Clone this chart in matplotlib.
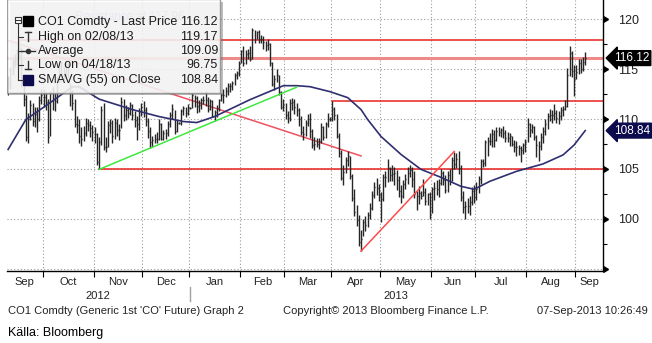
import matplotlib.pyplot as plt
import numpy as np
import pandas as pd
from matplotlib.transforms import blended_transform_factory
from matplotlib.patches import Rectangle
from matplotlib.lines import Line2D

plt.rcParams['font.family'] = ['Liberation Sans', 'DejaVu Sans']

# CO1 Comdty daily bars, 07-Sep-2012 .. 06-Sep-2013 (one row per week)
dates = pd.bdate_range('2012-09-07', '2013-09-06')

close = [
    113.6,
    114.8, 115.8, 116.0, 116.6, 116.7,
    113.8, 112.0, 108.2, 110.0, 111.4,
    109.8, 110.5, 110.0, 111.9, 112.4,
    112.2, 111.7, 108.2, 112.6, 112.0,
    111.8, 113.9, 115.3, 114.6, 114.6,
    115.3, 115.0, 112.7, 111.6, 109.5,
    109.4, 108.3, 108.0, 108.6, 109.6,
    109.4, 109.1, 108.7, 108.5, 105.7,
    107.7, 110.9, 107.2, 107.2, 109.4,
    109.6, 108.3, 109.6, 108.9, 108.9,
    111.7, 110.4, 110.9, 110.6, 111.4,
    110.4, 109.9, 109.5, 110.8, 111.2,
    110.9, 109.8, 108.8, 107.7, 107.9,
    108.0, 108.0, 109.5, 108.0, 108.6,
    108.6, 109.5, 110.4, 111.0, 108.8,
    109.6, 109.6, 110.8, 111.1, 110.6,
    111.1, 111.1, 112.4, 112.1, 111.3,
    111.4, 111.9, 111.9, 111.9, 111.0,
    111.8, 110.3, 110.7, 111.1, 111.9,
    112.4, 112.4, 112.8, 113.3, 113.3,
    113.6, 114.4, 114.6, 115.6, 116.8,
    115.6, 116.5, 116.6, 116.0, 118.9,
    118.5, 118.7, 118.0, 118.0, 117.7,
    117.4, 117.5, 115.6, 113.5, 114.0,
    114.4, 112.7, 111.2, 111.4, 110.4,
    110.1, 111.6, 111.7, 111.2, 110.9,
    110.0, 108.7, 108.5, 109.6, 110.0,
    108.8, 107.4, 107.5, 107.5, 107.8,
    109.2, 108.2, 109.5, 110.0, 110.0,
    111.0, 110.4, 108.3, 106.6, 104.1,
    104.7, 105.9, 106.3, 104.3, 102.1,
    100.7, 99.9, 97.7, 98.0, 99.7,
    99.4, 100.4, 101.1, 102.4, 103.2,
    103.1, 102.4, 102.0, 104.2, 104.2,
    105.1, 104.4, 104.5, 104.6, 103.9,
    102.8, 102.3, 103.5, 104.0, 104.6,
    104.9, 104.0, 102.5, 102.3, 102.6,
    102.3, 102.7, 101.8, 102.5, 100.4,
    103.0, 103.1, 103.0, 103.6, 104.6,
    103.9, 102.9, 104.4, 103.8, 105.9,
    105.5, 106.0, 105.1, 102.2, 101.2,
    101.3, 101.3, 101.7, 102.8, 102.2,
    103.0, 104.0, 105.8, 105.6, 107.7,
    107.8, 107.8, 108.5, 107.9, 108.8,
    108.7, 108.9, 108.6, 108.1, 108.1,
    108.3, 107.5, 107.2, 107.2, 107.1,
    106.9, 107.4, 107.7, 109.5, 108.9,
    109.2, 108.2, 107.4, 107.3, 108.2,
    108.8, 109.5, 110.3, 110.4, 110.4,
    110.6, 110.1, 110.3, 110.9, 111.0,
    111.3, 114.4, 116.6, 114.8, 114.0,
    114.7, 115.6, 115.0, 115.7, 116.12,
]

high = [
    114.3,
    115.2, 116.0, 116.5, 117.0, 117.95,
    117.2, 114.3, 112.4, 110.6, 111.9,
    111.6, 111.2, 111.2, 112.3, 113.0,
    113.0, 112.6, 112.0, 112.8, 113.2,
    112.6, 114.2, 115.6, 115.8, 115.2,
    115.9, 115.6, 113.6, 112.9, 112.0,
    110.3, 110.0, 109.2, 109.3, 110.1,
    110.0, 109.8, 109.4, 109.2, 108.6,
    108.2, 111.3, 111.6, 108.2, 109.8,
    110.0, 109.9, 110.1, 110.0, 109.5,
    112.2, 112.0, 111.4, 111.2, 111.7,
    111.5, 110.8, 110.3, 111.1, 111.6,
    111.8, 111.2, 110.1, 109.2, 108.3,
    108.5, 108.7, 110.0, 109.6, 108.9,
    109.0, 109.8, 110.7, 111.5, 110.9,
    109.9, 109.7, 111.0, 111.3, 111.2,
    111.5, 111.2, 112.6, 112.4, 112.3,
    111.9, 112.1, 112.3, 112.8, 112.2,
    112.0, 111.9, 110.9, 111.4, 112.0,
    112.6, 113.0, 113.2, 113.6, 113.6,
    113.8, 114.6, 114.8, 115.8, 116.9,
    117.3, 116.9, 117.0, 117.3, 119.17,
    118.9, 118.8, 118.9, 118.4, 118.3,
    117.8, 118.0, 117.6, 115.7, 114.4,
    115.0, 114.4, 112.8, 112.0, 111.6,
    110.8, 112.0, 112.1, 112.0, 111.6,
    111.1, 110.3, 109.3, 109.9, 110.5,
    110.6, 109.0, 108.2, 108.1, 108.1,
    109.6, 109.3, 109.7, 110.6, 110.2,
    111.8, 111.2, 110.5, 108.6, 106.9,
    105.4, 106.2, 106.8, 106.3, 104.5,
    103.0, 101.4, 100.4, 98.9, 100.0,
    100.3, 100.7, 101.6, 102.8, 103.7,
    104.1, 103.5, 102.7, 104.5, 104.8,
    106.0, 105.2, 105.4, 105.2, 104.9,
    104.3, 103.4, 103.9, 104.5, 105.2,
    105.4, 105.2, 104.8, 102.8, 103.3,
    102.8, 104.0, 103.1, 102.6, 102.7,
    103.2, 103.7, 103.9, 104.0, 105.0,
    104.8, 104.4, 104.8, 105.0, 106.2,
    106.7, 106.6, 106.8, 105.4, 102.8,
    101.8, 102.1, 102.3, 103.2, 103.4,
    103.7, 104.3, 106.0, 106.0, 107.9,
    108.2, 108.6, 109.0, 108.9, 109.2,
    109.2, 109.1, 109.3, 108.9, 108.7,
    108.6, 108.3, 107.9, 107.8, 107.4,
    107.3, 107.6, 108.0, 110.1, 109.6,
    109.5, 109.3, 108.4, 107.8, 108.6,
    109.2, 110.0, 110.6, 111.0, 110.9,
    111.5, 110.9, 110.8, 111.2, 111.3,
    111.9, 115.1, 117.3, 116.8, 115.4,
    115.4, 116.0, 116.0, 116.2, 116.7,
]

low = [
    112.4,
    113.0, 114.4, 115.2, 115.4, 116.0,
    113.2, 111.3, 107.8, 107.6, 109.9,
    109.3, 109.2, 108.7, 109.8, 111.5,
    111.2, 110.9, 107.6, 108.3, 110.9,
    110.8, 111.6, 113.6, 113.8, 113.9,
    114.3, 114.2, 111.3, 110.9, 109.2,
    108.6, 107.6, 107.3, 107.8, 108.3,
    108.8, 108.2, 107.8, 107.6, 105.4,
    104.95, 107.4, 106.9, 106.7, 107.2,
    108.6, 107.6, 108.0, 108.3, 107.9,
    109.1, 109.8, 109.9, 110.1, 110.4,
    109.9, 109.2, 107.9, 108.9, 110.3,
    110.2, 109.3, 108.1, 107.1, 107.2,
    107.6, 107.6, 107.9, 107.9, 107.9,
    108.0, 108.3, 109.2, 110.0, 108.5,
    108.7, 109.5, 109.4, 110.4, 110.2,
    110.4, 111.0, 111.1, 111.2, 110.6,
    110.7, 111.0, 111.5, 111.3, 110.7,
    110.9, 110.2, 109.8, 110.2, 110.8,
    111.8, 111.6, 112.2, 112.4, 112.7,
    112.9, 113.4, 114.0, 114.3, 115.6,
    115.3, 115.5, 116.0, 115.8, 116.0,
    117.6, 118.0, 117.6, 117.6, 117.0,
    116.8, 116.9, 115.3, 113.3, 112.9,
    113.7, 112.4, 111.0, 110.8, 110.0,
    109.6, 109.8, 110.9, 110.5, 110.3,
    109.3, 108.4, 107.9, 108.3, 109.3,
    108.1, 107.1, 106.9, 107.2, 107.0,
    107.6, 107.9, 108.1, 109.2, 109.8,
    109.8, 109.9, 108.1, 106.2, 103.9,
    103.4, 104.6, 105.3, 104.0, 101.8,
    100.3, 99.3, 97.3, 96.75, 98.3,
    98.8, 99.2, 100.0, 100.9, 102.1,
    102.4, 101.8, 99.7, 101.8, 103.2,
    103.7, 103.8, 103.8, 103.4, 102.9,
    102.2, 101.6, 102.1, 103.0, 103.5,
    104.2, 103.2, 102.1, 100.9, 101.5,
    102.0, 102.3, 101.4, 101.4, 100.0,
    100.6, 101.9, 102.4, 102.2, 103.4,
    103.4, 102.6, 102.7, 103.4, 103.8,
    105.0, 105.1, 104.5, 101.8, 100.6,
    100.0, 100.6, 100.4, 101.4, 101.6,
    101.9, 102.6, 103.5, 105.2, 105.3,
    106.3, 107.4, 107.2, 107.2, 107.8,
    108.3, 108.2, 108.1, 107.7, 107.7,
    107.3, 107.3, 106.7, 106.3, 106.4,
    105.7, 106.5, 106.7, 107.7, 108.2,
    108.6, 107.9, 106.2, 105.8, 106.9,
    107.6, 108.4, 109.0, 109.8, 109.6,
    109.9, 109.6, 109.5, 109.9, 110.3,
    110.9, 111.2, 114.3, 114.2, 112.3,
    114.0, 114.5, 114.6, 114.8, 115.4,
]

# SMAVG (55) on close
sma_dates = ['2012-09-07', '2012-09-19', '2012-10-04', '2012-10-18', '2012-10-23',
             '2012-11-05', '2012-11-26', '2012-12-12', '2012-12-27', '2013-01-04',
             '2013-01-16', '2013-02-07', '2013-02-28', '2013-03-08', '2013-03-18',
             '2013-03-29', '2013-04-10', '2013-04-18', '2013-04-23', '2013-05-01',
             '2013-05-14', '2013-05-27', '2013-06-07', '2013-06-20', '2013-06-28',
             '2013-07-09', '2013-07-25', '2013-08-12', '2013-08-23', '2013-08-30',
             '2013-09-06']
sma_vals = [106.95, 109.95, 111.65, 113.25, 113.25,
            112.0, 110.95, 110.25, 109.75, 109.65,
            110.25, 111.95, 113.35, 113.35, 113.25,
            112.75, 112.15, 110.95, 109.95, 108.25,
            106.45, 104.95, 104.15, 103.25, 102.95,
            103.75, 104.75, 105.5, 106.4, 107.4,
            108.84]

# trend lines and levels
down_dates, down_vals = ['2012-09-07', '2013-04-18'], [117.9, 106.3]
green_dates, green_vals = ['2012-11-05', '2013-03-08'], [104.95, 113.2]
up_dates, up_vals = ['2013-04-18', '2013-06-17'], [96.75, 106.75]
level_dates = ['2012-09-14', '2012-11-05', '2013-04-01']
level_vals = [117.96, 104.95, 111.8]
last_price = 116.12
last_sma = 108.84

legend_labels = ['CO1 Comdty - Last Price', 'High on 02/08/13', 'Average',
                 'Low on 04/18/13', 'SMAVG (55) on Close']
legend_values = ['116.12', '119.17', '109.09', '96.75', '108.84']

W, H = 652, 343
fig = plt.figure(figsize=(W / 100, H / 100), dpi=100)
ax = fig.add_axes([7 / W, 1 - 271 / H, 596 / W, 271 / H])
XMAX = 268


def ix(d):
    return dates.get_loc(pd.Timestamp(d))


x = np.arange(len(dates))
ink = '#262626'

# grid
ax.set_ylim(94.75, 121.95)
ax.set_xlim(-0.5, XMAX)
yt = [95, 100, 105, 110, 115, 120]
for v in yt:
    ax.axhline(v, color='#9a9a9a', lw=0.8, ls=(0, (1, 2)), zorder=1)

month_id = dates.year * 12 + dates.month
starts = np.r_[0, np.flatnonzero(np.diff(month_id)) + 1]
bounds = starts[1:] - 0.5
edges = np.r_[-0.5, bounds, XMAX]
centers = (edges[:-1] + edges[1:]) / 2
for b in bounds:
    ax.axvline(b, color='#9a9a9a', lw=0.8, ls=(0, (1, 2)), zorder=1)

# levels and trend lines
red = '#e8201e'
for d, v in zip(level_dates, level_vals):
    ax.plot([ix(d), XMAX], [v, v], color=red, lw=1.1, zorder=2)
ax.axhline(last_price, color='#f08a8a', lw=2.2, zorder=2)
ax.plot([ix(d) for d in down_dates], down_vals, color='#f05060', lw=1.1, zorder=2)
ax.plot([ix(d) for d in up_dates], up_vals, color='#ff4a4a', lw=1.1, zorder=4)
ax.plot([ix(d) for d in green_dates], green_vals, color='#3ee83e', lw=1.1, zorder=4)
ax.text(30, 120.2, 'Resistance at 117.96', color='#8f9fd6', fontsize=8.5,
        va='center', zorder=2)

# price bars
ax.vlines(x, low, high, color=ink, lw=1.0, zorder=3)
ax.hlines(close, x, x + 0.45, color=ink, lw=1.0, zorder=3)

# moving average
ax.plot([ix(d) for d in sma_dates], sma_vals, color='#2f2f70', lw=1.2, zorder=3)

# axes styling
for s in ['top', 'left']:
    ax.spines[s].set_visible(False)
for s in ['right', 'bottom']:
    ax.spines[s].set_color('black')
    ax.spines[s].set_linewidth(1.0)

ax.yaxis.tick_right()
ax.set_yticks(yt)
ax.set_yticklabels([''] + [str(v) for v in yt[1:]])
ax.set_yticks(np.arange(97.5, 120, 5), minor=True)
ax.tick_params(axis='y', which='major', length=0, pad=11, labelsize=9,
               labelcolor='#222222')
ax.tick_params(axis='y', which='minor', length=3, color='black', width=0.8)
trans_y = blended_transform_factory(ax.transAxes, ax.transData)
ax.plot(np.ones(len(yt)), yt, ls='none', marker=9, ms=5, color='black',
        transform=trans_y, clip_on=False)

ax.set_xticks(bounds)
ax.set_xticklabels([])
ax.tick_params(axis='x', which='major', length=4, color='black', width=0.8)
for c, s in zip(centers, starts):
    ax.annotate(dates[s].strftime('%b'), xy=(c, 0), xycoords=('data', 'axes fraction'),
                xytext=(0, -11), textcoords='offset pixels', ha='center', va='center',
                fontsize=8, color='#222222')
jan = bounds[3]
for year, c in [('2012', (-0.5 + jan) / 2), ('2013', (jan + XMAX) / 2)]:
    ax.annotate(year, xy=(c, 0), xycoords=('data', 'axes fraction'),
                xytext=(0, -25), textcoords='offset pixels', ha='center', va='center',
                fontsize=8, color='#222222')
fig.add_artist(Line2D([190 / W, 190 / W], [1 - 287 / H, 1 - 301 / H],
                      color='#a0a0a0', lw=1))

# last value boxes on the price axis
for val, fc in [(last_price, 'black'), (last_sma, '#0b0b4e')]:
    ax.annotate(f'{val:.2f}', xy=(1, val), xycoords=('axes fraction', 'data'),
                xytext=(11, 0), textcoords='offset pixels', ha='left', va='center',
                color='white', fontsize=8.5, annotation_clip=False, zorder=6,
                bbox=dict(boxstyle='larrow,pad=0.12', fc=fc, ec=fc))

# legend panel
lax = fig.add_axes([7 / W, 1 - 97 / H, 217 / W, 97 / H])
lax.set_xlim(0, 217)
lax.set_ylim(97, 0)
lax.axis('off')
lax.add_patch(Rectangle((3, 2), 213, 93, fc='#707070', ec='none', alpha=0.45))
lax.add_patch(Rectangle((0, -1), 213, 94, fc='white', ec='#8a8a8a', lw=1, alpha=0.82))
rows = [22, 37, 51, 65, 80]
for yy, lab, val in zip(rows, legend_labels, legend_values):
    lax.text(31, yy, lab, fontsize=9, va='center', color='#1a1a1a')
    lax.text(211, yy, val, fontsize=9, va='center', ha='right', color='#1a1a1a')
tree = '#333333'
lax.plot([10.5, 10.5], [24, rows[-1]], color=tree, lw=0.8)
for yy in rows[1:]:
    lax.plot([10.5, 16], [yy, yy], color=tree, lw=0.8)
lax.add_patch(Rectangle((7.5, 17), 6, 6, fc='white', ec=tree, lw=0.8))
lax.plot([8.5, 12.5], [20, 20], color=tree, lw=0.8)
lax.add_patch(Rectangle((16, 16), 10, 10, fc='black', ec='black'))
lax.plot([18, 24], [32, 32], color=tree, lw=1)
lax.plot([21, 21], [32, 41], color=tree, lw=1)
lax.plot([14, 28], [51, 51], color=tree, lw=1)
lax.plot([21], [51], marker='o', ms=3, color=tree)
lax.plot([21, 21], [61, 69], color=tree, lw=1)
lax.plot([18, 24], [69, 69], color=tree, lw=1)
lax.add_patch(Rectangle((16, 75), 10, 10, fc='#0b0b4e', ec='#0b0b4e'))

# footer
fy = 1 - 311 / H
fig.text(8 / W, fy, "CO1 Comdty (Generic 1st 'CO' Future) Graph 2", fontsize=8,
         va='center', color='#222222')
fig.text(283 / W, fy, 'Copyright\u00a9 2013 Bloomberg Finance L.P.', fontsize=8,
         va='center', color='#222222')
fig.text(648 / W, fy, '07-Sep-2013 10:26:49', fontsize=8, va='center', ha='right',
         color='#222222')
fig.text(8 / W, 1 - 333 / H, 'Källa: Bloomberg', fontsize=9, va='center', color='black')

fig.savefig('out.png', dpi=100)
